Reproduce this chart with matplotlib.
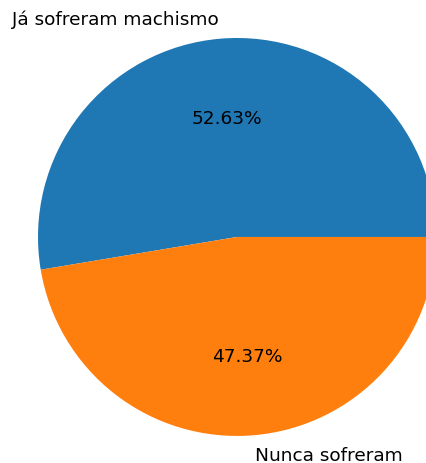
# pie chart: women who have suffered machismo vs never
import matplotlib
matplotlib.use('Agg')
import matplotlib.pyplot as plt

labels = ['Já sofreram machismo', 'Nunca sofreram']
counts = [10, 9]

fig = plt.figure(figsize=(4.27, 4.64), dpi=100)
ax = fig.add_axes([0, 0, 1, 1])

ax.pie(counts, labels=labels, autopct='%1.2f%%',
       textprops={'fontsize': 13.3})

# place the pie the way it sits in the picture
ax.set_xlim(-1.191, 0.955)
ax.set_ylim(-1.136, 1.196)
ax.set_aspect('auto')

fig.savefig('out.png', dpi=100)
